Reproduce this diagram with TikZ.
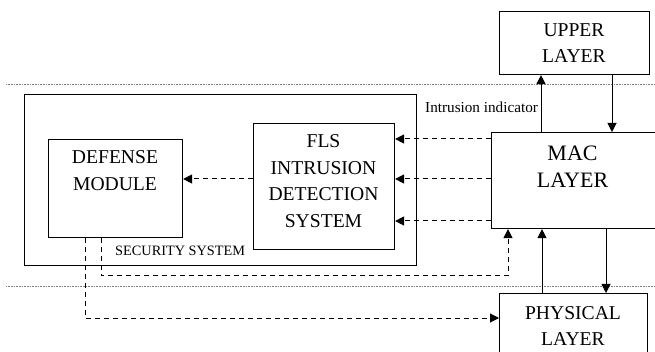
\documentclass[tikz,border=0pt]{standalone}
\usepackage{fontspec}
\setmainfont{Liberation Serif}
\usepackage{tikz}
\usetikzlibrary{arrows.meta}

\begin{document}
\begin{tikzpicture}[x=1pt, y=-1pt, >={Triangle[length=9pt, width=9pt]}]
        \tikzstyle{every node}=[inner sep=0pt, font=\fontsize{19.6}{26.4}\selectfont]
        \tikzstyle{box}=[draw, line width=1.1pt, rectangle, anchor=north west]
        \tikzstyle{flow}=[draw, line width=1pt, ->]
        \tikzstyle{alert}=[draw, line width=1pt, ->, dash pattern=on 5pt off 4pt]
        \tikzstyle{layerline}=[draw=gray, line width=0.8pt, dash pattern=on 1pt off 0.6pt]
        \useasboundingbox (0,0) rectangle (655,352);
        % layer separators
        \draw[layerline] (6,84) -- (655,84);
        \draw[layerline] (6,286) -- (655,286);
        % boxes
        \node [box, minimum width=392pt, minimum height=171pt] (secsys) at (24,94) {};
        \node [box, minimum width=134pt, minimum height=98pt] (defense) at (48,139) {};
        \node [box, minimum width=141pt, minimum height=126pt] (fls) at (253,123) {};
        \node [box, minimum width=170pt, minimum height=96pt] (mac) at (491,132) {};
        \node [box, minimum width=150pt, minimum height=63pt] (upper) at (499,11) {};
        \node [box, minimum width=148pt, minimum height=80pt] (phy) at (499,293) {};
        % box texts
        \node [align=center] (defensetxt) at (115,170.5) {DEFENSE\\MODULE};
        \node [align=center, font=\fontsize{19.6}{26.7}\selectfont] (flstxt) at (323.5,181) {FLS\\INTRUSION\\DETECTION\\SYSTEM};
        \node [align=center, font=\fontsize{22}{27}\selectfont] (mactxt) at (572.5,166.5) {MAC\\LAYER};
        \node [align=center] (uppertxt) at (574,43) {UPPER\\LAYER};
        \node [align=center] (phytxt) at (573,326) {PHYSICAL\\LAYER};
        \node [anchor=base west, font=\fontsize{15.2}{18}\selectfont] (indicator) at (425,113) {Intrusion indicator};
        \node [anchor=base west, font=\fontsize{14.3}{17}\selectfont] (sectxt) at (115,256) {SECURITY SYSTEM};
        % layer stack
        \draw[flow] (upper.south -| 612,0) -- (mac.north -| 612,0);
        \draw[flow] (mac.north -| 541,0) -- (upper.south -| 541,0);
        \draw[flow] (mac.south -| 606,0) -- (phy.north -| 606,0);
        \draw[flow] (phy.north -| 542,0) -- (mac.south -| 542,0);
        % intrusion indicators
        \foreach \yy in {139,179,221}
            \draw[alert] (mac.west |- 0,\yy) -- (fls.east |- 0,\yy);
        \draw[alert] (fls.west |- 0,179) -- (defense.east |- 0,179);
        % defense actions
        \draw[alert] (defense.south -| 101,0) -- (101,276) -- (508,276) -- (mac.south -| 508,0);
        \draw[alert] (defense.south -| 85,0) -- (85,318) -- (phy.west |- 0,318);
    \end{tikzpicture}
\end{document}
